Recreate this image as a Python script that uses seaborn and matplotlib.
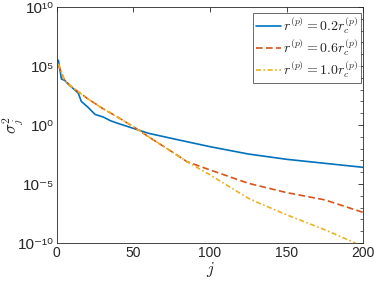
import numpy as np
import pandas as pd
import matplotlib
matplotlib.use("Agg")
import matplotlib.pyplot as plt
import seaborn as sns
from matplotlib.ticker import FixedLocator, NullFormatter

# readings (j, log10 sigma^2)
j_a = [1, 3, 5, 8, 12, 14, 16, 20, 25, 30, 35, 40, 50, 60, 75, 100, 125, 150, 175, 200]
lg_a = [5.5, 3.9, 3.8, 3.4, 2.95, 2.7, 2.0, 1.55, 0.9, 0.7, 0.37, 0.14, -0.28, -0.7, -1.13, -1.83, -2.45, -2.9, -3.24, -3.58]

j_b = [1, 5, 10, 15, 20, 30, 40, 50, 55, 60, 75, 85, 100, 125, 150, 175, 200]
lg_b = [5.07, 3.8, 3.2, 2.73, 2.25, 1.4, 0.65, -0.14, -0.56, -1.0, -2.25, -3.1, -3.8, -4.93, -5.72, -6.34, -7.4]

j_c = [1, 5, 10, 15, 20, 30, 40, 50, 55, 60, 75, 85, 100, 125, 130, 150, 175, 195]
lg_c = [5.2, 3.8, 3.2, 2.73, 2.25, 1.4, 0.65, -0.14, -0.56, -1.0, -2.25, -3.1, -4.22, -6.2, -6.5, -7.6, -8.87, -10.0]

labels = [r"$r^{(p)}=0.2r_c^{(p)}$", r"$r^{(p)}=0.6r_c^{(p)}$", r"$r^{(p)}=1.0r_c^{(p)}$"]
colors = ["#0072BD", "#D95319", "#EDB120"]
dashes = [(None), (4, 2), (3, 1.5, 1, 1.5)]
ytick_vals = [1e-10, 1e-5, 1e0, 1e5, 1e10]
ytick_labels = ["10⁻¹⁰", "10⁻⁵", "10⁰", "10⁵", "10¹⁰"]

sns.set_theme(style="white")
plt.rcParams["font.family"] = ["Liberation Sans", "DejaVu Sans"]
plt.rcParams["mathtext.fontset"] = "cm"

fig = plt.figure(figsize=(3.74, 2.83), dpi=100)
ax = fig.add_axes([0.152, 0.141, 0.819, 0.834])

for jj, lg, lab, c, d in zip([j_a, j_b, j_c], [lg_a, lg_b, lg_c], labels, colors, dashes):
    df = pd.DataFrame({"j": jj, "s": 10.0 ** np.array(lg)})
    sns.lineplot(data=df, x="j", y="s", ax=ax, color=c, linewidth=1.2, label=lab)
    if d is not None:
        ax.lines[-1].set_dashes(d)

ax.set_yscale("log")
ax.set_xlim(0, 200)
ax.set_ylim(1e-10, 1e10)
ax.set_xticks([0, 50, 100, 150, 200])
ax.yaxis.set_major_locator(FixedLocator(ytick_vals))
ax.yaxis.set_minor_locator(FixedLocator([10.0 ** k for k in range(-10, 11)]))
ax.yaxis.set_minor_formatter(NullFormatter())
ax.set_yticklabels(ytick_labels, fontsize=11)
ax.tick_params(axis="both", which="both", direction="in", top=True, right=True,
               colors="#262626", pad=2)
ax.tick_params(axis="x", labelsize=10)
ax.tick_params(which="major", length=3.5, width=0.6)
ax.tick_params(which="minor", length=2, width=0.5)
for s in ax.spines.values():
    s.set_color("#262626")
    s.set_linewidth(0.6)
ax.set_xlabel(r"$j$", fontsize=12, labelpad=0)
ax.set_ylabel(r"$\sigma_j^2$", fontsize=12)
ax.yaxis.set_label_coords(-0.105, 0.5)
leg = ax.legend(loc="upper right", bbox_to_anchor=(0.993, 0.975), fontsize=10, frameon=True,
                fancybox=False, edgecolor="#262626", borderpad=0.2, labelspacing=0.1,
                handlelength=1.8, handletextpad=0.2, borderaxespad=0.0)
leg.get_frame().set_linewidth(0.6)
fig.savefig("out.png", dpi=100)
